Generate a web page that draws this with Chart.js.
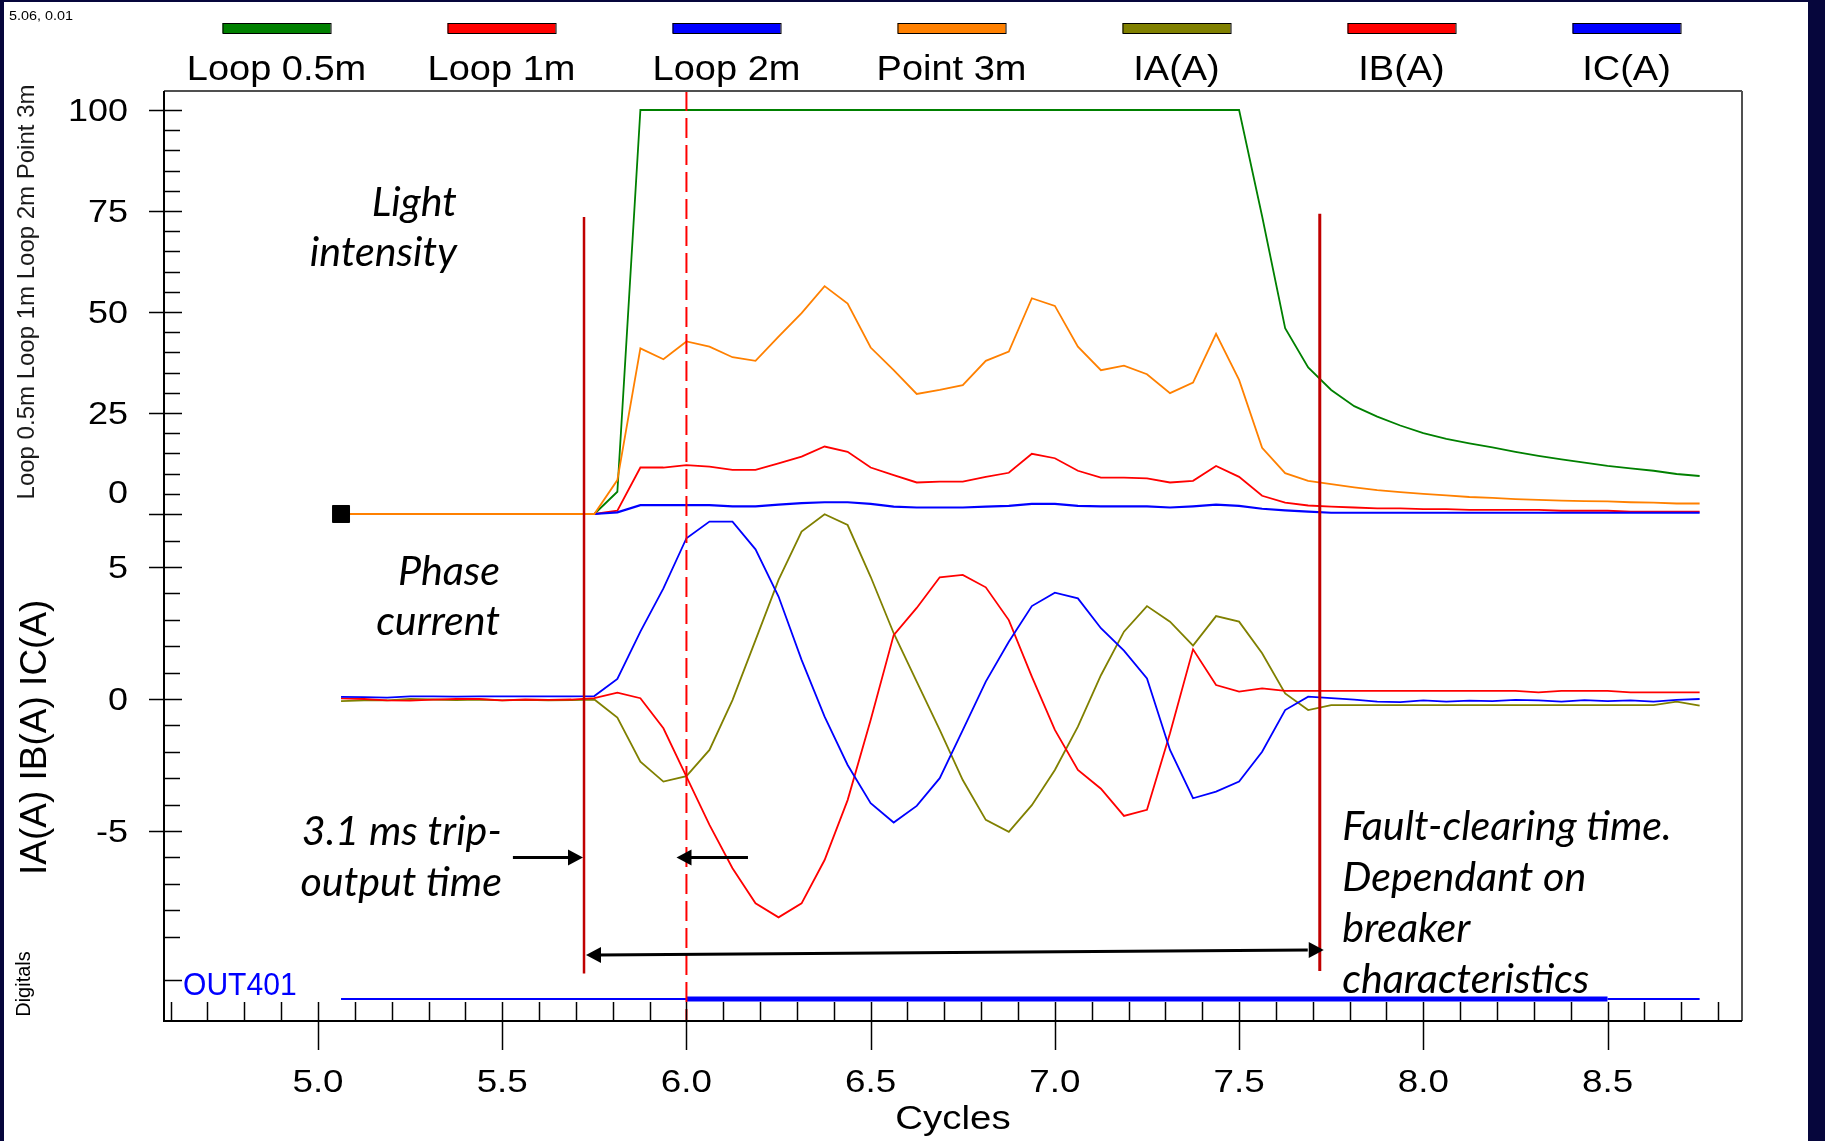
<!DOCTYPE html>
<html>
<head>
<meta charset="utf-8">
<title>Light intensity and phase current</title>
<script src="https://cdn.jsdelivr.net/npm/chart.js@4.4.1/dist/chart.umd.min.js"></script>
<style>
  html, body { margin: 0; padding: 0; background: #06063c; overflow: hidden; }
  #wrap { position: relative; width: 1825px; height: 1141px; }
</style>
</head>
<body>
<div id="wrap"><canvas id="chart"></canvas></div>
<script>
// sample times in cycles (16 samples per cycle)
const cycles = [
  5.0625, 5.125, 5.1875, 5.25, 5.3125, 5.375, 5.4375, 5.5, 5.5625, 5.625,
  5.6875, 5.75, 5.8125, 5.875, 5.9375, 6.0, 6.0625, 6.125, 6.1875, 6.25,
  6.3125, 6.375, 6.4375, 6.5, 6.5625, 6.625, 6.6875, 6.75, 6.8125, 6.875,
  6.9375, 7.0, 7.0625, 7.125, 7.1875, 7.25, 7.3125, 7.375, 7.4375, 7.5,
  7.5625, 7.625, 7.6875, 7.75, 7.8125, 7.875, 7.9375, 8.0, 8.0625, 8.125,
  8.1875, 8.25, 8.3125, 8.375, 8.4375, 8.5, 8.5625, 8.625, 8.6875, 8.75
];

// light intensity channels
const loop05 = [
  0, 0, 0, 0, 0, 0, 0, 0, 0, 0,
  0, 0, 5.5, 100, 100, 100, 100, 100, 100, 100,
  100, 100, 100, 100, 100, 100, 100, 100, 100, 100,
  100, 100, 100, 100, 100, 100, 100, 100, 100, 100,
  73.7, 46, 36.3, 30.7, 26.7, 24.1, 21.9, 20.0, 18.6, 17.5,
  16.5, 15.4, 14.4, 13.5, 12.7, 11.9, 11.3, 10.7, 9.9, 9.4
];
const loop1 = [
  0, 0, 0, 0, 0, 0, 0, 0, 0, 0,
  0, 0, 0.8, 11.5, 11.5, 12.1, 11.7, 10.9, 10.9, 12.5,
  14.2, 16.7, 15.4, 11.5, 9.6, 7.8, 8.0, 8.0, 9.2, 10.2,
  14.9, 13.8, 10.7, 9.0, 9.0, 8.8, 7.8, 8.2, 11.9, 9.2,
  4.5, 2.8, 2.1, 1.8, 1.6, 1.4, 1.4, 1.2, 1.2, 1.0,
  1.0, 1.0, 1.0, 0.8, 0.8, 0.8, 0.6, 0.6, 0.6, 0.6
];
const loop2 = [
  0, 0, 0, 0, 0, 0, 0, 0, 0, 0,
  0, 0, 0.4, 2.2, 2.2, 2.2, 2.2, 1.9, 1.9, 2.3,
  2.7, 2.9, 2.9, 2.5, 1.8, 1.6, 1.6, 1.6, 1.8, 2.0,
  2.5, 2.5, 2.0, 1.9, 1.9, 1.9, 1.6, 1.9, 2.3, 2.0,
  1.3, 0.9, 0.6, 0.3, 0.3, 0.3, 0.3, 0.3, 0.3, 0.3,
  0.3, 0.3, 0.3, 0.3, 0.3, 0.3, 0.3, 0.3, 0.3, 0.3
];
const point3 = [
  0, 0, 0, 0, 0, 0, 0, 0, 0, 0,
  0, 0, 8.4, 41.0, 38.3, 42.7, 41.4, 38.8, 37.9, 43.9,
  49.7, 56.4, 52.1, 41.2, 35.6, 29.7, 30.7, 31.9, 37.9, 40.2,
  53.4, 51.5, 41.4, 35.6, 36.7, 34.6, 29.9, 32.5, 44.6, 33.2,
  16.4, 10.1, 8.2, 7.4, 6.6, 5.9, 5.4, 5.0, 4.6, 4.2,
  4.0, 3.7, 3.5, 3.3, 3.2, 3.1, 2.9, 2.8, 2.6, 2.6
];

// phase currents (A)
const ia = [
  -0.08, -0.05, -0.05, 0.0, -0.02, -0.04, -0.02, -0.05, -0.03, -0.05,
  -0.04, -0.02, -0.7, -2.37, -3.13, -2.92, -1.93, -0.04, 2.23, 4.51,
  6.34, 7.0, 6.59, 4.63, 2.49, 0.66, -1.17, -3.07, -4.58, -5.03,
  -4.02, -2.69, -1.05, 0.9, 2.55, 3.52, 2.93, 2.02, 3.14, 2.93,
  1.73, 0.21, -0.42, -0.23, -0.23, -0.23, -0.23, -0.23, -0.23, -0.23,
  -0.23, -0.23, -0.23, -0.23, -0.23, -0.23, -0.23, -0.23, -0.1, -0.25
];
const ib = [
  0.02, 0.0, -0.05, -0.06, -0.02, 0.0, 0.0, -0.05, -0.02, -0.03,
  -0.02, 0.03, 0.24, 0.03, -1.11, -2.94, -4.77, -6.41, -7.74, -8.27,
  -7.74, -6.1, -3.83, -0.8, 2.42, 3.45, 4.61, 4.7, 4.23, 2.99,
  0.85, -1.17, -2.69, -3.4, -4.43, -4.2, -1.3, 1.88, 0.53, 0.28,
  0.4, 0.31, 0.31, 0.31, 0.31, 0.31, 0.31, 0.31, 0.31, 0.31,
  0.31, 0.31, 0.25, 0.31, 0.31, 0.31, 0.25, 0.25, 0.25, 0.25
];
const ic = [
  0.08, 0.07, 0.05, 0.1, 0.1, 0.09, 0.1, 0.1, 0.1, 0.1,
  0.1, 0.11, 0.76, 2.55, 4.19, 6.09, 6.72, 6.72, 5.67, 3.88,
  1.48, -0.67, -2.5, -3.95, -4.68, -4.05, -3.0, -1.18, 0.66, 2.17,
  3.52, 4.03, 3.81, 2.68, 1.83, 0.78, -1.93, -3.76, -3.51, -3.13,
  -2.0, -0.42, 0.09, 0.03, -0.02, -0.1, -0.12, -0.05, -0.1, -0.06,
  -0.08, -0.03, -0.05, -0.1, -0.04, -0.08, -0.05, -0.1, -0.03, 0.0
];

// digital trip output state
const out401 = [
  0, 0, 0, 0, 0, 0, 0, 0, 0, 0,
  0, 0, 0, 0, 0, 1, 1, 1, 1, 1,
  1, 1, 1, 1, 1, 1, 1, 1, 1, 1,
  1, 1, 1, 1, 1, 1, 1, 1, 1, 1,
  1, 1, 1, 1, 1, 1, 1, 1, 1, 1,
  1, 1, 1, 1, 1, 0, 0, 0, 0, 0
];

const seriesNames = ['Loop 0.5m', 'Loop 1m', 'Loop 2m', 'Point 3m', 'IA(A)', 'IB(A)', 'IC(A)'];
const seriesColors = ['#008000', '#ff0000', '#0000ff', '#ff8000', '#808000', '#ff0000', '#0000ff'];

const lightTicks = [0, 25, 50, 75, 100];
const currentTicks = [-5, 0, 5];
const cycleTicks = [5.0, 5.5, 6.0, 6.5, 7.0, 7.5, 8.0, 8.5];
const cursor = [5.0625, 0];

// event markers (cycles)
const tripOutput = 5.722;
const cursorLine = 6.0;
const faultCleared = 7.719;

const ARIAL = '"Liberation Sans", Arial, sans-serif';
const NOTE = 'italic 40px Lato, "Open Sans", sans-serif';

function seg(ctx, x1, y1, x2, y2) {
  ctx.beginPath();
  ctx.moveTo(x1, y1);
  ctx.lineTo(x2, y2);
  ctx.stroke();
}

function head(ctx, xt, yt, dir) {
  ctx.beginPath();
  ctx.moveTo(xt, yt);
  ctx.lineTo(xt - dir * 15, yt - 8);
  ctx.lineTo(xt - dir * 15, yt + 8);
  ctx.closePath();
  ctx.fill();
}

function txt(ctx, s, x, y, o) {
  ctx.save();
  ctx.font = o.font;
  ctx.fillStyle = o.color || '#000';
  ctx.textAlign = o.align || 'left';
  ctx.textBaseline = o.base || 'alphabetic';
  ctx.translate(x, y);
  if (o.rot) ctx.rotate(o.rot);
  ctx.scale(o.sx || 1, 1);
  ctx.fillText(s, 0, 0);
  ctx.restore();
}

const scopeDecor = {
  id: 'scopeDecor',
  beforeDraw(chart) {
    const { ctx, width, height } = chart;
    ctx.save();
    ctx.fillStyle = '#06063c';
    ctx.fillRect(0, 0, width, height);
    ctx.fillStyle = '#ffffff';
    ctx.fillRect(4, 2, 1804, height - 2);
    ctx.restore();
  },
  afterDatasetsDraw(chart) {
    const { ctx, chartArea: a } = chart;
    const { x, yLight, yCur, yDig } = chart.scales;
    const xp = v => x.getPixelForValue(v);
    ctx.save();

    // marker lines
    ctx.strokeStyle = '#ff0000';
    ctx.lineWidth = 2;
    ctx.setLineDash([20, 7]);
    seg(ctx, xp(cursorLine), a.top, xp(cursorLine), a.bottom);
    ctx.setLineDash([]);
    ctx.strokeStyle = '#c00000';
    ctx.lineWidth = 2.5;
    seg(ctx, xp(tripOutput), yLight.getPixelForValue(73.5), xp(tripOutput), yCur.getPixelForValue(-10.4));
    ctx.lineWidth = 3;
    seg(ctx, xp(faultCleared), yLight.getPixelForValue(74.3), xp(faultCleared), yCur.getPixelForValue(-10.3));

    // frame
    ctx.lineWidth = 2;
    ctx.strokeStyle = '#505050';
    seg(ctx, a.left, a.top, a.right, a.top);
    seg(ctx, a.right, a.top, a.right, a.bottom);
    ctx.strokeStyle = '#000';
    seg(ctx, a.left, a.top, a.left, a.bottom + 1);
    seg(ctx, a.left - 1, a.bottom, a.right, a.bottom);

    // y ticks
    ctx.lineWidth = 1.5;
    for (let v = 0; v <= 100; v += 5) {
      const py = Math.round(yLight.getPixelForValue(v)) + 0.5;
      const major = lightTicks.includes(v);
      seg(ctx, major ? a.left - 15 : a.left, py, a.left + (major ? 18 : 16), py);
    }
    for (let v = -9; v <= 6; v++) {
      const py = Math.round(yCur.getPixelForValue(v)) + 0.5;
      const major = currentTicks.includes(v);
      seg(ctx, major ? a.left - 15 : a.left, py, a.left + (major ? 18 : 16), py);
    }
    const digY = Math.round(yDig.getPixelForValue(0.475)) + 0.5;
    seg(ctx, a.left, digY, a.left + 18, digY);

    // x ticks
    for (let k = 46; k <= 88; k++) {
      const px = Math.round(xp(k / 10)) + 0.5;
      const major = k % 5 === 0;
      seg(ctx, px, a.bottom - 19, px, major ? a.bottom + 29 : a.bottom);
    }

    // tick labels
    const yFont = '31px ' + ARIAL;
    lightTicks.forEach(v => {
      const py = yLight.getPixelForValue(v) + (v === 0 ? -22 : 0);
      txt(ctx, String(v), a.left - 36, py + 11, { font: yFont, align: 'right', sx: 1.16 });
    });
    currentTicks.forEach(v => {
      txt(ctx, String(v), a.left - 36, yCur.getPixelForValue(v) + 11, { font: yFont, align: 'right', sx: 1.16 });
    });
    cycleTicks.forEach(v => {
      txt(ctx, v.toFixed(1), xp(v), a.bottom + 71, { font: '32px ' + ARIAL, align: 'center', sx: 1.15 });
    });
    txt(ctx, 'Cycles', (a.left + a.right) / 2, a.bottom + 108, { font: '34px ' + ARIAL, align: 'center', sx: 1.13 });

    // axis titles
    txt(ctx, 'Loop 0.5m Loop 1m Loop 2m Point 3m', 27, (yLight.getPixelForValue(100) + yLight.getPixelForValue(0)) / 2 - 20,
      { font: '24px ' + ARIAL, align: 'center', base: 'middle', rot: -Math.PI / 2, color: '#1a1a1a' });
    txt(ctx, 'IA(A) IB(A) IC(A)', 36, yCur.getPixelForValue(-1.45),
      { font: '37px ' + ARIAL, align: 'center', base: 'middle', rot: -Math.PI / 2 });
    txt(ctx, 'Digitals', 24, yDig.getPixelForValue(0.375),
      { font: '20px ' + ARIAL, align: 'center', base: 'middle', rot: -Math.PI / 2 });
    txt(ctx, 'OUT401', a.left + 19, digY + 14, { font: '31px ' + ARIAL, color: '#0000ff', sx: 0.97 });

    // cursor readout
    txt(ctx, '5.06, 0.01', 9, 20, { font: '12px ' + ARIAL, sx: 1.2 });

    // legend
    seriesNames.forEach((name, i) => {
      const cx = 276.5 + 225 * i;
      ctx.fillStyle = seriesColors[i];
      ctx.fillRect(cx - 54, 23, 108, 10);
      ctx.strokeStyle = '#000';
      ctx.lineWidth = 1;
      ctx.strokeRect(cx - 54 + 0.5, 23.5, 108, 10);
      txt(ctx, name, cx, 80, { font: '35px ' + ARIAL, align: 'center', sx: 1.085 });
    });

    // annotations
    const note = (s, c, py, align) => txt(ctx, s, xp(c), py, { font: NOTE, align, sx: 1.03 });
    note('Light', 5.377, yLight.getPixelForValue(73.8), 'right');
    note('intensity', 5.377, yLight.getPixelForValue(61.4), 'right');
    note('Phase', 5.494, yCur.getPixelForValue(4.32), 'right');
    note('current', 5.494, yCur.getPixelForValue(2.42), 'right');
    note('3.1 ms trip-', 5.499, yCur.getPixelForValue(-5.53), 'right');
    note('output time', 5.499, yCur.getPixelForValue(-7.46), 'right');
    note('Fault-clearing time.', 7.78, yCur.getPixelForValue(-5.34), 'left');
    note('Dependant on', 7.78, yCur.getPixelForValue(-7.27), 'left');
    note('breaker', 7.78, yCur.getPixelForValue(-9.2), 'left');
    note('characteristics', 7.78, yCur.getPixelForValue(-11.14), 'left');

    // arrows
    ctx.strokeStyle = '#000';
    ctx.fillStyle = '#000';
    ctx.lineWidth = 3;
    const ya = yCur.getPixelForValue(-6.0);
    seg(ctx, xp(5.529), ya, xp(tripOutput) - 12, ya);
    head(ctx, xp(tripOutput) - 1, ya, 1);
    seg(ctx, xp(6.167), ya, xp(5.973) + 12, ya);
    head(ctx, xp(5.973), ya, -1);
    const yl = yCur.getPixelForValue(-9.7), yr = yCur.getPixelForValue(-9.51);
    seg(ctx, xp(tripOutput) + 14, yl, xp(faultCleared) - 12, yr);
    head(ctx, xp(tripOutput) + 2, yl, -1);
    head(ctx, xp(faultCleared) + 4, yr, 1);

    ctx.restore();
  }
};

const pts = vals => cycles.map((c, i) => ({ x: c, y: vals[i] }));
const trace = (i, vals, axis, w) => ({
  label: seriesNames[i],
  data: pts(vals),
  yAxisID: axis,
  borderColor: seriesColors[i],
  backgroundColor: seriesColors[i],
  borderWidth: w || 1.8,
  pointRadius: 0,
  tension: 0
});

new Chart(document.getElementById('chart'), {
  type: 'line',
  data: {
    datasets: [
      {
        label: 'cursor',
        data: [{ x: cursor[0], y: cursor[1] }],
        yAxisID: 'yLight',
        showLine: false,
        pointStyle: 'rect',
        pointRadius: 12,
        backgroundColor: '#000',
        borderColor: '#000'
      },
      trace(3, point3, 'yLight'),
      trace(2, loop2, 'yLight', 2.2),
      trace(1, loop1, 'yLight'),
      trace(0, loop05, 'yLight'),
      trace(6, ic, 'yCur'),
      trace(5, ib, 'yCur'),
      trace(4, ia, 'yCur'),
      {
        label: 'OUT401',
        data: cycles.map(c => ({ x: c, y: 0 })),
        yAxisID: 'yDig',
        borderColor: '#0000ff',
        borderWidth: 2,
        pointRadius: 0,
        segment: { borderWidth: ctx => out401[ctx.p0DataIndex] ? 5 : 2 }
      }
    ]
  },
  options: {
    responsive: true,
    maintainAspectRatio: false,
    animation: false,
    events: [],
    layout: { padding: { left: 164, top: 91, right: 83, bottom: 120 } },
    plugins: { legend: { display: false }, tooltip: { enabled: false } },
    scales: {
      x: { type: 'linear', min: 4.582, max: 8.865, display: false },
      yLight: { type: 'linear', min: -125.5, max: 104.7, display: false },
      yCur: { type: 'linear', min: -12.197, max: 23.03, display: false },
      yDig: { type: 'linear', min: -0.55, max: 22.7, display: false }
    }
  },
  plugins: [scopeDecor]
});
</script>
</body>
</html>
